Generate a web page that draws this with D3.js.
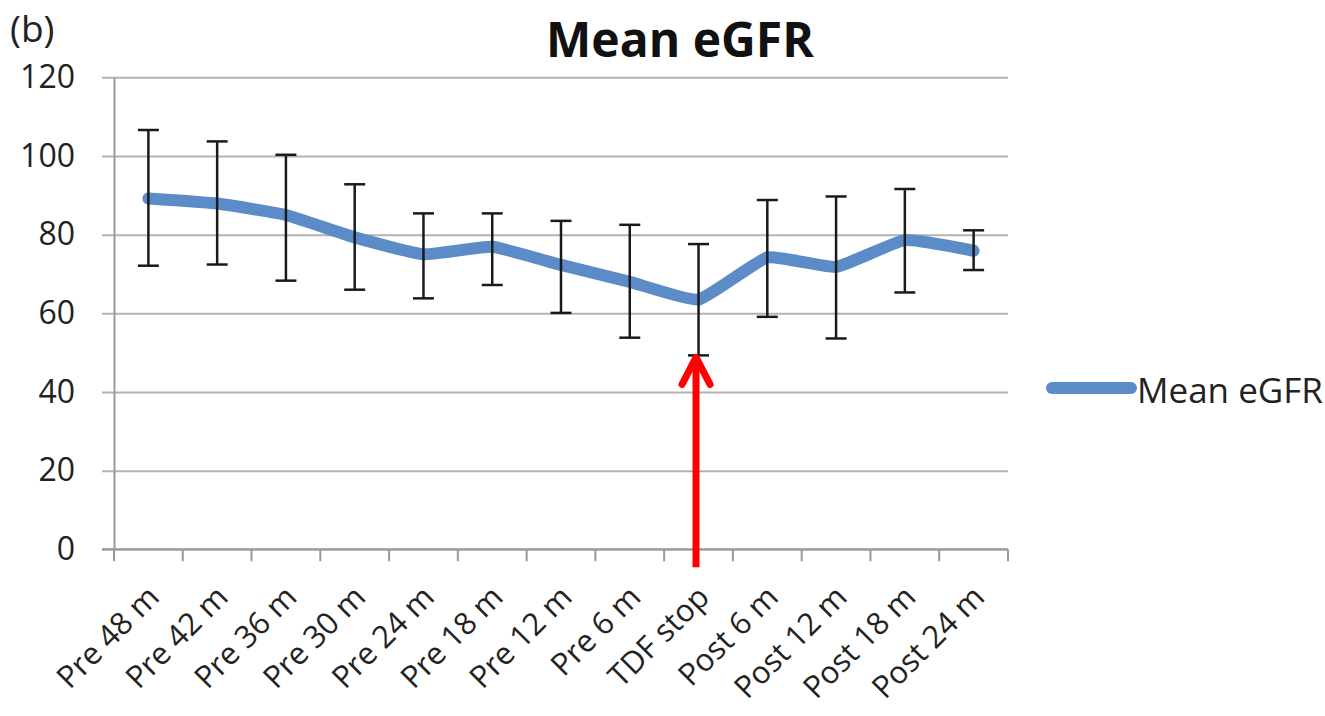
<!DOCTYPE html>
<html>
<head>
<meta charset="utf-8">
<script src="https://cdn.jsdelivr.net/npm/d3@7"></script>
<style>
  html, body { margin: 0; padding: 0; background: #fff; overflow: hidden; }
  svg { display: block; font-family: "Open Sans", "DejaVu Sans", sans-serif; }
</style>
</head>
<body>
<svg id="chart" width="1325" height="716"></svg>
<script>
const categories = ["Pre 48 m","Pre 42 m","Pre 36 m","Pre 30 m","Pre 24 m","Pre 18 m","Pre 12 m","Pre 6 m","TDF stop","Post 6 m","Post 12 m","Post 18 m","Post 24 m"];
const meanValues = [89.2, 87.9, 85.0, 79.3, 75.0, 76.9, 72.3, 68.0, 63.5, 74.2, 71.8, 78.6, 75.9];
const upperValues = [106.6, 103.7, 100.3, 92.8, 85.4, 85.4, 83.5, 82.5, 77.6, 88.8, 89.7, 91.6, 81.1];
const lowerValues = [72.1, 72.4, 68.3, 66.0, 63.8, 67.2, 60.1, 53.8, 49.3, 59.1, 53.6, 65.3, 71.0];
const yTicks = [0, 20, 40, 60, 80, 100, 120];
const seriesName = "Mean eGFR";
const titleText = "Mean eGFR";
const panelLabel = "(b)";
const arrowCategory = "TDF stop";

const svg = d3.select("#chart");
const mLeft = 114, mRight = 1008, mTop = 77.3, mBottom = 549.3;
const lineColor = "#5b8cc7";

const x = d3.scaleBand().domain(categories).range([mLeft, mRight]).padding(0);
const y = d3.scaleLinear().domain([0, 120]).range([mBottom, mTop]);
const cx = d => x(d) + x.bandwidth() / 2;

// gridlines
svg.append("g")
  .attr("transform", `translate(${mRight},0)`)
  .call(d3.axisLeft(y).tickValues(yTicks).tickSize(mRight - mLeft + 12).tickFormat(""))
  .call(g => g.select(".domain").remove())
  .call(g => g.selectAll("line").attr("stroke", "#b3b3b3").attr("stroke-width", 2));

// y axis
svg.append("g")
  .attr("transform", `translate(${mLeft},0)`)
  .call(d3.axisLeft(y).tickValues(yTicks).tickSize(0).tickPadding(39))
  .call(g => g.select(".domain").attr("stroke", "#999").attr("stroke-width", 2))
  .call(g => g.selectAll("text").attr("font-size", 32).attr("fill", "#222")
        .attr("font-family", "Open Sans"));

// x axis
const xAxis = svg.append("g")
  .attr("transform", `translate(0,${mBottom})`)
  .call(d3.axisBottom(x).tickSize(0).tickFormat(d => d));
xAxis.select(".domain").attr("stroke", "#999").attr("stroke-width", 2)
  .attr("d", `M${mLeft - 12},0H${mRight}`);
xAxis.selectAll("text")
  .attr("font-size", 31).attr("fill", "#222").attr("font-family", "Open Sans")
  .attr("text-anchor", "end")
  .attr("x", 0).attr("y", 0).attr("dy", "0.35em")
  .attr("transform", "translate(5,42) rotate(-45)");
// boundary tick marks
const bounds = categories.map(d => x(d)).concat([mRight]);
xAxis.selectAll("line.bt").data(bounds).join("line")
  .attr("class", "bt")
  .attr("x1", d => d).attr("x2", d => d)
  .attr("y1", 0).attr("y2", 12)
  .attr("stroke", "#999").attr("stroke-width", 2);

// line
const line = d3.line()
  .x((d, i) => cx(categories[i]))
  .y(d => y(d))
  .curve(d3.curveCardinal.tension(0.6));
svg.append("path")
  .datum(meanValues)
  .attr("d", line)
  .attr("fill", "none")
  .attr("stroke", lineColor)
  .attr("stroke-width", 12)
  .attr("stroke-linecap", "round")
  .attr("stroke-linejoin", "round");

// error bars
const eb = svg.append("g").attr("stroke", "#1a1a1a").attr("stroke-width", 2.5);
categories.forEach((c, i) => {
  const xc = cx(c);
  eb.append("line").attr("x1", xc).attr("x2", xc).attr("y1", y(upperValues[i])).attr("y2", y(lowerValues[i]));
  eb.append("line").attr("x1", xc - 10.5).attr("x2", xc + 10.5).attr("y1", y(upperValues[i])).attr("y2", y(upperValues[i]));
  eb.append("line").attr("x1", xc - 10.5).attr("x2", xc + 10.5).attr("y1", y(lowerValues[i])).attr("y2", y(lowerValues[i]));
});

// red arrow
const ai = categories.indexOf(arrowCategory);
const ax = cx(arrowCategory) - 2.5;
const tipY = y(lowerValues[ai]);
const arrow = svg.append("g").attr("stroke", "#ff0000").attr("fill", "none")
  .attr("stroke-linecap", "round").attr("stroke-linejoin", "round");
arrow.append("line").attr("x1", ax).attr("x2", ax).attr("y1", tipY + 4).attr("y2", mBottom + 18)
  .attr("stroke-width", 7).attr("stroke-linecap", "butt");
arrow.append("path")
  .attr("d", `M${ax - 14},${tipY + 29}L${ax},${tipY + 2}L${ax + 14},${tipY + 29}`)
  .attr("stroke-width", 7);

// title
svg.append("text")
  .attr("x", 680).attr("y", 57)
  .attr("text-anchor", "middle")
  .attr("font-size", 48).attr("font-weight", "bold").attr("fill", "#111")
  .attr("font-family", "Open Sans")
  .text(titleText);

// panel label
svg.append("text")
  .attr("x", 10).attr("y", 42)
  .attr("font-size", 37).attr("fill", "#222")
  .attr("font-family", "Open Sans")
  .text(panelLabel);

// legend
svg.append("line")
  .attr("x1", 1052).attr("x2", 1131).attr("y1", 388).attr("y2", 388)
  .attr("stroke", lineColor).attr("stroke-width", 12).attr("stroke-linecap", "round");
svg.append("text")
  .attr("x", 1137).attr("y", 403)
  .attr("font-size", 35).attr("fill", "#222")
  .attr("font-family", "Open Sans")
  .text(seriesName);
</script>
</body>
</html>
